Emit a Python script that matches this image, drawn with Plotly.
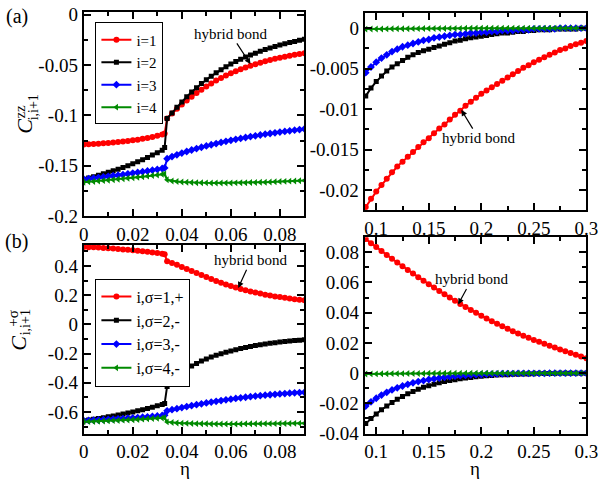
import plotly.graph_objects as go

# ---------------- data ----------------
ETA_LEFT = [0.000, 0.002, 0.004, 0.006, 0.008, 0.010, 0.012, 0.014, 0.016, 0.018,
            0.020, 0.022, 0.024, 0.026, 0.028, 0.030, 0.032, 0.033,
            0.034, 0.036, 0.038, 0.040, 0.042, 0.044, 0.046, 0.048, 0.050, 0.052,
            0.054, 0.056, 0.058, 0.060, 0.062, 0.064, 0.066, 0.068, 0.070, 0.072,
            0.074, 0.076, 0.078, 0.080, 0.082, 0.084, 0.086, 0.088, 0.090]

ETA_RIGHT = [0.090, 0.095, 0.100, 0.105, 0.110, 0.115, 0.120, 0.125, 0.130, 0.135,
             0.140, 0.145, 0.150, 0.155, 0.160, 0.165, 0.170, 0.175, 0.180, 0.185,
             0.190, 0.195, 0.200, 0.205, 0.210, 0.215, 0.220, 0.225, 0.230, 0.235,
             0.240, 0.245, 0.250, 0.255, 0.260, 0.265, 0.270, 0.275, 0.280, 0.285,
             0.290, 0.295, 0.300]

# (a) left: C^zz
CZZ_L1 = [-0.1290, -0.1288, -0.1285, -0.1282, -0.1278, -0.1274, -0.1270, -0.1265, -0.1260, -0.1254,
          -0.1248, -0.1241, -0.1233, -0.1224, -0.1214, -0.1203, -0.1190, -0.1180,
          -0.1030, -0.0980, -0.0935, -0.0892, -0.0852, -0.0814, -0.0778, -0.0744, -0.0712, -0.0682,
          -0.0654, -0.0628, -0.0604, -0.0582, -0.0561, -0.0542, -0.0524, -0.0507, -0.0491, -0.0476,
          -0.0462, -0.0449, -0.0437, -0.0426, -0.0416, -0.0406, -0.0397, -0.0389, -0.0382]
CZZ_L2 = [-0.1635, -0.1622, -0.1609, -0.1595, -0.1581, -0.1566, -0.1551, -0.1535, -0.1518, -0.1500,
          -0.1481, -0.1461, -0.1440, -0.1418, -0.1395, -0.1371, -0.1346, -0.1320,
          -0.1030, -0.0975, -0.0920, -0.0866, -0.0815, -0.0768, -0.0724, -0.0683, -0.0645, -0.0610,
          -0.0577, -0.0546, -0.0517, -0.0490, -0.0465, -0.0442, -0.0420, -0.0400, -0.0381, -0.0363,
          -0.0346, -0.0330, -0.0315, -0.0301, -0.0288, -0.0276, -0.0264, -0.0253, -0.0243]
CZZ_L3 = [-0.1635, -0.1630, -0.1624, -0.1618, -0.1612, -0.1606, -0.1600, -0.1594, -0.1588, -0.1581,
          -0.1574, -0.1567, -0.1560, -0.1553, -0.1545, -0.1537, -0.1528, -0.1522,
          -0.1430, -0.1410, -0.1392, -0.1375, -0.1359, -0.1344, -0.1330, -0.1317, -0.1304, -0.1292,
          -0.1280, -0.1269, -0.1258, -0.1248, -0.1238, -0.1229, -0.1220, -0.1211, -0.1203, -0.1195,
          -0.1187, -0.1180, -0.1173, -0.1166, -0.1159, -0.1153, -0.1147, -0.1141, -0.1135]
CZZ_L4 = [-0.1665, -0.1661, -0.1657, -0.1653, -0.1649, -0.1645, -0.1640, -0.1635, -0.1630, -0.1625,
          -0.1620, -0.1615, -0.1610, -0.1604, -0.1598, -0.1592, -0.1586, -0.1583,
          -0.1640, -0.1652, -0.1658, -0.1662, -0.1665, -0.1667, -0.1669, -0.1670, -0.1671, -0.1672,
          -0.1672, -0.1672, -0.1672, -0.1672, -0.1671, -0.1670, -0.1669, -0.1668, -0.1667, -0.1665,
          -0.1664, -0.1662, -0.1660, -0.1658, -0.1656, -0.1654, -0.1652, -0.1650, -0.1648]

# (a) right: C^zz
CZZ_R1 = [-0.0221, -0.0211, -0.0202, -0.0194, -0.0186, -0.0178, -0.0171, -0.0165, -0.0159, -0.0153,
          -0.0147, -0.0141, -0.0136, -0.0130, -0.0124, -0.0119, -0.0113, -0.0107, -0.0102, -0.0096,
          -0.0091, -0.0086, -0.0081, -0.0077, -0.0073, -0.0069, -0.0065, -0.0061, -0.0057, -0.0053,
          -0.0049, -0.0046, -0.0042, -0.0039, -0.0036, -0.0033, -0.0030, -0.0027, -0.0025, -0.0022,
          -0.0020, -0.0018, -0.0016]
CZZ_R2 = [-0.0084, -0.0074, -0.0066, -0.0059, -0.0053, -0.0048, -0.0044, -0.0040, -0.0036, -0.0033,
          -0.0030, -0.0028, -0.0026, -0.0024, -0.0022, -0.0020, -0.0018, -0.0016, -0.0015, -0.0013,
          -0.0012, -0.0011, -0.0010, -0.0009, -0.0008, -0.0007, -0.0006, -0.0006, -0.0005, -0.0004,
          -0.0004, -0.0003, -0.0003, -0.0002, -0.0002, -0.0002, -0.0001, -0.0001, -0.0001, -0.0001,
          -0.0001, 0.0000, 0.0000]
CZZ_R3 = [-0.0055, -0.0048, -0.0042, -0.0037, -0.0033, -0.0029, -0.0026, -0.0023, -0.0021, -0.0019,
          -0.0017, -0.0015, -0.0014, -0.0012, -0.0011, -0.0010, -0.0009, -0.0008, -0.0008, -0.0007,
          -0.0006, -0.0006, -0.0005, -0.0005, -0.0004, -0.0004, -0.0003, -0.0003, -0.0003, -0.0002,
          -0.0002, -0.0002, -0.0001, -0.0001, -0.0001, -0.0001, -0.0001, 0.0000, 0.0000, 0.0000,
          0.0000, 0.0000, 0.0000]
CZZ_R4 = [-0.00012, -0.00011, -0.00010, -0.00010, -0.00009, -0.00008, -0.00008, -0.00007, -0.00007, -0.00006,
          -0.00006, -0.00005, -0.00005, -0.00004, -0.00004, -0.00004, -0.00003, -0.00003, -0.00003, -0.00002,
          -0.00002, -0.00002, -0.00002, -0.00001, -0.00001, -0.00001, -0.00001, -0.00001, 0.0, 0.0,
          0.0, 0.0, 0.0, 0.0, 0.0, 0.0, 0.0, 0.0, 0.0, 0.0,
          0.0, 0.0, 0.0]

# (b) left: C^{+sigma}
CPS_L1 = [0.530, 0.529, 0.528, 0.526, 0.524, 0.522, 0.520, 0.517, 0.514, 0.511,
          0.508, 0.505, 0.501, 0.497, 0.493, 0.489, 0.484, 0.481,
          0.432, 0.421, 0.408, 0.394, 0.380, 0.366, 0.352, 0.338, 0.324, 0.311,
          0.298, 0.286, 0.274, 0.263, 0.253, 0.243, 0.234, 0.226, 0.218, 0.211,
          0.204, 0.198, 0.192, 0.187, 0.182, 0.177, 0.173, 0.169, 0.165]
CPS_L2 = [-0.660, -0.655, -0.650, -0.645, -0.639, -0.633, -0.627, -0.621, -0.614, -0.607,
          -0.600, -0.592, -0.584, -0.576, -0.567, -0.558, -0.548, -0.542,
          -0.425, -0.390, -0.358, -0.330, -0.306, -0.285, -0.267, -0.251, -0.237, -0.224,
          -0.212, -0.201, -0.191, -0.182, -0.173, -0.165, -0.158, -0.151, -0.145, -0.139,
          -0.134, -0.129, -0.125, -0.121, -0.117, -0.114, -0.111, -0.108, -0.105]
CPS_L3 = [-0.660, -0.658, -0.656, -0.655, -0.653, -0.651, -0.649, -0.647, -0.645, -0.643,
          -0.641, -0.638, -0.636, -0.633, -0.630, -0.627, -0.624, -0.622,
          -0.592, -0.584, -0.577, -0.570, -0.563, -0.556, -0.550, -0.544, -0.538, -0.532,
          -0.527, -0.522, -0.517, -0.512, -0.507, -0.503, -0.499, -0.495, -0.491, -0.488,
          -0.485, -0.482, -0.479, -0.476, -0.474, -0.471, -0.469, -0.467, -0.465]
CPS_L4 = [-0.667, -0.666, -0.665, -0.664, -0.662, -0.661, -0.659, -0.658, -0.656, -0.655,
          -0.653, -0.651, -0.649, -0.647, -0.645, -0.643, -0.641, -0.640,
          -0.668, -0.672, -0.675, -0.677, -0.678, -0.679, -0.680, -0.681, -0.681, -0.682,
          -0.682, -0.682, -0.682, -0.682, -0.682, -0.682, -0.681, -0.681, -0.681, -0.681,
          -0.680, -0.680, -0.680, -0.679, -0.679, -0.679, -0.678, -0.678, -0.678]

# (b) right: C^{+sigma}
CPS_R1 = [0.0887, 0.0860, 0.0834, 0.0808, 0.0782, 0.0757, 0.0732, 0.0707, 0.0683, 0.0659,
          0.0635, 0.0612, 0.0589, 0.0566, 0.0544, 0.0522, 0.0500, 0.0479, 0.0458, 0.0438,
          0.0418, 0.0399, 0.0380, 0.0362, 0.0344, 0.0327, 0.0310, 0.0294, 0.0278, 0.0263,
          0.0248, 0.0234, 0.0220, 0.0207, 0.0194, 0.0181, 0.0169, 0.0157, 0.0145, 0.0133,
          0.0121, 0.0110, 0.0099]
CPS_R2 = [-0.0334, -0.0300, -0.0270, -0.0242, -0.0217, -0.0194, -0.0173, -0.0154, -0.0137, -0.0121,
          -0.0107, -0.0094, -0.0083, -0.0073, -0.0064, -0.0056, -0.0049, -0.0043, -0.0037, -0.0032,
          -0.0028, -0.0024, -0.0021, -0.0018, -0.0015, -0.0013, -0.0011, -0.0010, -0.0008, -0.0007,
          -0.0006, -0.0005, -0.0004, -0.0003, -0.0003, -0.0002, -0.0002, -0.0001, -0.0001, -0.0001,
          -0.0001, 0.0000, 0.0000]
CPS_R3 = [-0.0218, -0.0190, -0.0166, -0.0145, -0.0127, -0.0111, -0.0097, -0.0085, -0.0074, -0.0064,
          -0.0056, -0.0049, -0.0042, -0.0037, -0.0032, -0.0027, -0.0023, -0.0020, -0.0017, -0.0015,
          -0.0012, -0.0010, -0.0009, -0.0007, -0.0006, -0.0005, -0.0004, -0.0003, -0.0003, -0.0002,
          -0.0002, -0.0001, -0.0001, -0.0001, -0.0001, 0.0000, 0.0000, 0.0000, 0.0000, 0.0000,
          0.0000, 0.0000, 0.0000]
CPS_R4 = [-0.0006, -0.0005, -0.0005, -0.0004, -0.0004, -0.0003, -0.0003, -0.0003, -0.0002, -0.0002,
          -0.0002, -0.0002, -0.0001, -0.0001, -0.0001, -0.0001, -0.0001, -0.0001, 0.0000, 0.0000,
          0.0000, 0.0000, 0.0000, 0.0000, 0.0000, 0.0000, 0.0000, 0.0000, 0.0000, 0.0000,
          0.0000, 0.0000, 0.0000, 0.0000, 0.0000, 0.0000, 0.0000, 0.0000, 0.0000, 0.0000,
          0.0000, 0.0000, 0.0000]

NAMES_A = ["i=1", "i=2", "i=3", "i=4"]
NAMES_B = ["i,\u03c3=1,+", "i,\u03c3=2,-", "i,\u03c3=3,-", "i,\u03c3=4,-"]

# tick labels
TL_X_VALS = [0, 0.02, 0.04, 0.06, 0.08]
TL_X_TEXT = ["0", "0.02", "0.04", "0.06", "0.08"]
TL_Y_VALS = [-0.2, -0.15, -0.1, -0.05, 0]
TL_Y_TEXT = ["-0.2", "-0.15", "-0.1", "-0.05", "0"]
TR_X_VALS = [0.1, 0.15, 0.2, 0.25, 0.3]
TR_X_TEXT = ["0.1", "0.15", "0.2", "0.25", "0.3"]
TR_Y_VALS = [-0.02, -0.015, -0.01, -0.005, 0]
TR_Y_TEXT = ["-0.02", "-0.015", "-0.01", "-0.005", "0"]
BL_Y_VALS = [-0.6, -0.4, -0.2, 0, 0.2, 0.4]
BL_Y_TEXT = ["-0.6", "-0.4", "-0.2", "0", "0.2", "0.4"]
BR_Y_VALS = [-0.04, -0.02, 0, 0.02, 0.04, 0.06, 0.08]
BR_Y_TEXT = ["-0.04", "-0.02", "0", "0.02", "0.04", "0.06", "0.08"]

MINOR_LX = [0.01, 0.03, 0.05, 0.07, 0.09]
MINOR_RX = [0.075, 0.125, 0.175, 0.225, 0.275]
MINOR_TLY = [-0.175, -0.125, -0.075, -0.025]
MINOR_TRY = [-0.0225, -0.0175, -0.0125, -0.0075, -0.0025]
MINOR_BLY = [-0.7, -0.5, -0.3, -0.1, 0.1, 0.3, 0.5]
MINOR_BRY = [-0.03, -0.01, 0.01, 0.03, 0.05, 0.07]

# "hybrid bond" annotations: (arrow tip x, tip y, text x, text y) in data units
HB_A_LEFT = (0.068, -0.049, 0.0599, -0.019)
HB_A_RIGHT = (0.181, -0.0101, 0.1973, -0.0136)
HB_B_LEFT = (0.063, 0.250, 0.0682, 0.439)
HB_B_RIGHT = (0.178, 0.0455, 0.1908, 0.062)

# ---------------- styling ----------------
W, H = 610, 486
SERIF = "Liberation Serif, Times New Roman, serif"
COLORS = ["#ff0000", "#000000", "#0000ff", "#008a00"]
SYMBOLS = ["circle", "square", "diamond", "triangle-left"]
MSIZES = [6, 5, 6, 6]


def px(x):
    return x / W


def py(y):
    return 1 - y / H


fig = go.Figure()

panels = [
    ("x", "y", ETA_LEFT, [CZZ_L1, CZZ_L2, CZZ_L3, CZZ_L4], NAMES_A, "legend", True),
    ("x2", "y2", ETA_RIGHT, [CZZ_R1, CZZ_R2, CZZ_R3, CZZ_R4], NAMES_A, "legend", False),
    ("x3", "y3", ETA_LEFT, [CPS_L1, CPS_L2, CPS_L3, CPS_L4], NAMES_B, "legend2", True),
    ("x4", "y4", ETA_RIGHT, [CPS_R1, CPS_R2, CPS_R3, CPS_R4], NAMES_B, "legend2", False),
]
for xa, ya, xs, series, names, leg, show in panels:
    for k, ys in enumerate(series):
        fig.add_trace(go.Scatter(
            x=xs, y=ys, mode="lines+markers", name=names[k],
            xaxis=xa, yaxis=ya, legend=leg, showlegend=show,
            line=dict(color=COLORS[k], width=2),
            marker=dict(symbol=SYMBOLS[k], size=MSIZES[k], color=COLORS[k],
                        line=dict(width=0)),
        ))


def axis(domain, rng, vals, text, minor_vals, anchor, overflow="allow"):
    return dict(
        domain=domain, range=rng, anchor=anchor,
        tickmode="array", tickvals=vals, ticktext=text,
        showline=True, linecolor="black", linewidth=2, mirror="ticks",
        ticks="inside", ticklen=7, tickwidth=2, tickcolor="black",
        minor=dict(tickmode="array", tickvals=minor_vals, ticks="inside",
                   ticklen=4, tickwidth=2, tickcolor="black"),
        showgrid=False, zeroline=False, ticklabeloverflow=overflow,
        tickfont=dict(family=SERIF, size=19, color="black"),
    )


XL = [px(81), px(308)]
XR = [px(370), px(598)]

fig.update_layout(
    width=W, height=H,
    margin=dict(l=0, r=0, t=0, b=0),
    font=dict(family=SERIF, color="black"),
    plot_bgcolor="white", paper_bgcolor="white",
    xaxis=axis(XL, [0, 0.09], TL_X_VALS, TL_X_TEXT, MINOR_LX, "y"),
    yaxis=axis([py(217), py(5)], [-0.2, 0.003], TL_Y_VALS, TL_Y_TEXT, MINOR_TLY, "x"),
    xaxis2=axis(XR, [0.089, 0.3], TR_X_VALS, TR_X_TEXT, MINOR_RX, "y2"),
    yaxis2=axis([py(211), py(6)], [-0.0225, 0.0019], TR_Y_VALS, TR_Y_TEXT, MINOR_TRY, "x2"),
    xaxis3=axis(XL, [0, 0.09], TL_X_VALS, TL_X_TEXT, MINOR_LX, "y3"),
    yaxis3=axis([py(443), py(247)], [-0.748, 0.545], BL_Y_VALS, BL_Y_TEXT, MINOR_BLY, "x3"),
    xaxis4=axis(XR, [0.089, 0.3], TR_X_VALS, TR_X_TEXT, MINOR_RX, "y4"),
    yaxis4=axis([py(443), py(239)], [-0.04, 0.09], BR_Y_VALS, BR_Y_TEXT, MINOR_BRY, "x4"),
    legend=dict(x=px(93), y=py(16), xanchor="left", yanchor="top",
                bgcolor="white", bordercolor="black", borderwidth=1,
                font=dict(family=SERIF, size=15, color="black"),
                itemwidth=30, tracegroupgap=0),
    legend2=dict(x=px(93), y=py(282), xanchor="left", yanchor="top",
                 bgcolor="white", bordercolor="black", borderwidth=1,
                 font=dict(family=SERIF, size=16, color="black"),
                 itemwidth=30, tracegroupgap=0),
)


def label(text, x, y, size, angle=0, yanchor="middle"):
    return dict(text=text, x=px(x), y=py(y), xref="paper", yref="paper",
                xanchor="center", yanchor=yanchor, textangle=angle,
                showarrow=False, font=dict(family=SERIF, size=size, color="black"))


ann = [
    label("(a)", 12, 10, 20),
    label("(b)", 12, 243, 20),
    label("\u03b7", 185, 479, 19),
    label("\u03b7", 483, 479, 19),
    label("<i>C</i>", 20, 124, 22, -90),
    label("zz", 15, 109, 15, -90),
    label("i,i+1", 29, 104, 14, -90),
    label("<i>C</i>", 13, 349, 22, -90),
    label("+\u03c3", 8, 323, 15, -90),
    label("i,i+1", 22, 327, 14, -90),
]

for (tx, ty, lx, ly), xa, ya in [(HB_A_LEFT, "x", "y"), (HB_A_RIGHT, "x2", "y2"),
                                 (HB_B_LEFT, "x3", "y3"), (HB_B_RIGHT, "x4", "y4")]:
    ann.append(dict(text="hybrid bond", x=tx, y=ty, xref=xa, yref=ya,
                    ax=lx, ay=ly, axref=xa, ayref=ya,
                    showarrow=True, arrowhead=2, arrowsize=1, arrowwidth=1.2,
                    arrowcolor="black", standoff=0,
                    font=dict(family=SERIF, size=15, color="black")))

fig.update_layout(annotations=ann)

POST = (
    "document.documentElement.style.margin='0';"
    "document.body.style.margin='0';"
    "document.documentElement.style.overflow='hidden';"
    "document.body.style.overflow='hidden';"
)

fig.write_html("out.html", config={"displayModeBar": False}, post_script=POST)
